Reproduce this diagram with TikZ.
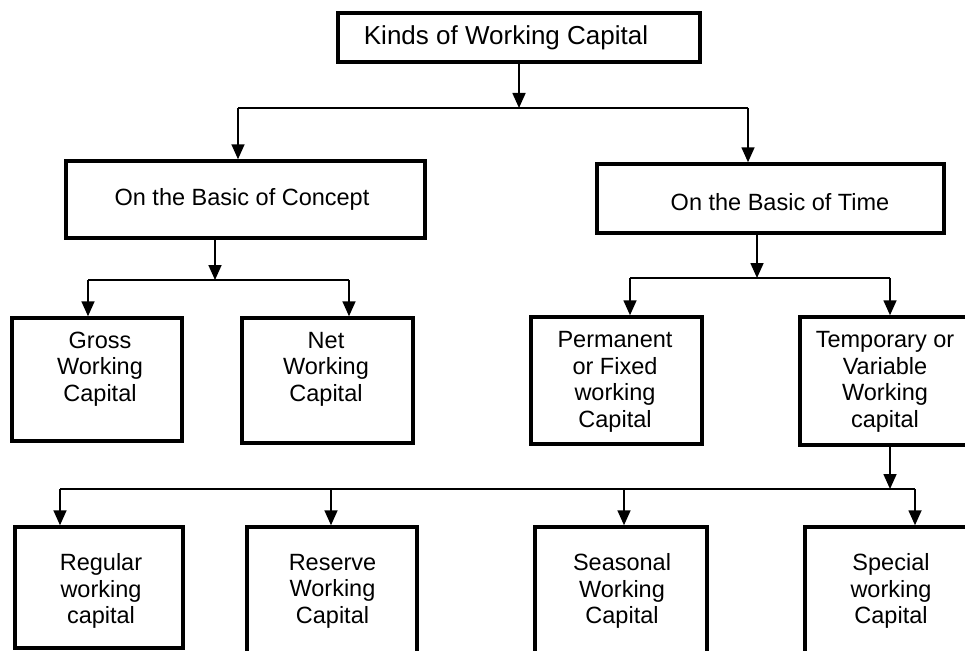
\documentclass[tikz,border=0pt]{standalone}
\usepackage{fontspec}
\setmainfont{Liberation Sans}
\usetikzlibrary{arrows.meta}
\begin{document}
\begin{tikzpicture}[x=1pt,y=-1pt,
  box/.style={draw, line width=3.5pt, inner sep=0pt},
  lbl/.style={align=center, font=\fontsize{23.5}{26.5}\selectfont, inner sep=0pt},
  link/.style={line width=1.7pt},
  arr/.style={link, -{Triangle[length=15pt,width=13pt]}}]
\useasboundingbox (0,0) rectangle (965,650);
\clip (0,0) rectangle (965,650);
\fill[white] (0,0) rectangle (965,650);

% boxes
\node[box, minimum width=362pt, minimum height=49pt] (kinds) at (519,37.5) {};
\node[box, minimum width=359pt, minimum height=77pt] (concept) at (245.5,199.5) {};
\node[box, minimum width=347pt, minimum height=69pt] (time) at (770.5,198.5) {};
\node[box, minimum width=170pt, minimum height=123pt] (gross) at (97,379.5) {};
\node[box, minimum width=171pt, minimum height=125pt] (net) at (327.5,380.5) {};
\node[box, minimum width=171pt, minimum height=127pt] (perm) at (616.5,380.5) {};
\node[box, minimum width=172pt, minimum height=128pt] (temp) at (886,381) {};
\node[box, minimum width=168pt, minimum height=121pt] (regular) at (99,587.5) {};
\node[box, minimum width=170pt, minimum height=140pt] (reserve) at (332,597) {};
\node[box, minimum width=172pt, minimum height=140pt] (seasonal) at (621,597) {};
\node[box, minimum width=172pt, minimum height=140pt] (special) at (891,597) {};

% labels
\node[lbl, font=\fontsize{26}{30}\selectfont] (kinds-t) at (506,38) {Kinds of Working Capital};
\node[lbl] (concept-t) at (242,199) {On the Basic of Concept};
\node[lbl] (time-t) at (780,202) {On the Basic of Time};
\node[lbl] (gross-t) at (100,369) {Gross\\Working\\Capital};
\node[lbl] (net-t) at (326,369) {Net\\Working\\Capital};
\node[lbl] (perm-t) at (615,382) {Permanent\\or Fixed\\working\\Capital};
\node[lbl] (temp-t) at (885,382) {Temporary or\\Variable\\Working\\capital};
\node[lbl] (regular-t) at (101,591) {Regular\\working\\capital};
\node[lbl] (reserve-t) at (332.5,591) {Reserve\\Working\\Capital};
\node[lbl] (seasonal-t) at (622,591) {Seasonal\\Working\\Capital};
\node[lbl] (special-t) at (891,591) {Special\\working\\Capital};

% first split
\coordinate (j0) at (519,108);
\coordinate (j0l) at (238,108);
\coordinate (j0r) at (748,108);
\draw[arr] (kinds.south) -- (j0);
\draw[link] (j0l) -- (j0r);
\draw[arr] (j0l) -- (j0l |- concept.north);
\draw[arr] (j0r) -- (j0r |- time.north);

% concept split
\coordinate (j1) at (215,280);
\coordinate (j1l) at (88,280);
\coordinate (j1r) at (349,280);
\draw[arr] (concept.south -| j1) -- (j1);
\draw[link] (j1l) -- (j1r);
\draw[arr] (j1l) -- (j1l |- gross.north);
\draw[arr] (j1r) -- (j1r |- net.north);

% time split
\coordinate (j2) at (757,278);
\coordinate (j2l) at (630,278);
\coordinate (j2r) at (890,278);
\draw[arr] (time.south -| j2) -- (j2);
\draw[link] (j2l) -- (j2r);
\draw[arr] (j2l) -- (j2l |- perm.north);
\draw[arr] (j2r) -- (j2r |- temp.north);

% temporary split
\coordinate (j3) at (890,489);
\coordinate (j3a) at (60,489);
\coordinate (j3b) at (331,489);
\coordinate (j3c) at (624,489);
\coordinate (j3d) at (915,489);
\draw[arr] (temp.south -| j3) -- (j3);
\draw[link] (j3a) -- (j3d);
\draw[arr] (j3a) -- (j3a |- regular.north);
\draw[arr] (j3b) -- (j3b |- reserve.north);
\draw[arr] (j3c) -- (j3c |- seasonal.north);
\draw[arr] (j3d) -- (j3d |- special.north);
\end{tikzpicture}
\end{document}
